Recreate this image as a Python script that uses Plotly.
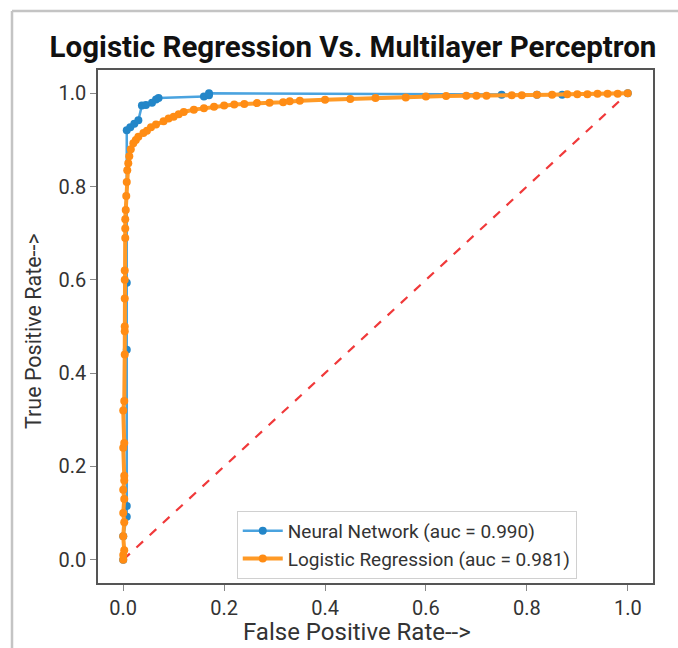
import plotly.graph_objects as go

# ROC data
nn_fpr = [0.0, 0.0, 0.007, 0.007, 0.007, 0.007, 0.007, 0.014, 0.022, 0.030, 0.037, 0.045,
          0.057, 0.065, 0.070, 0.160, 0.170, 0.170, 0.75, 0.82, 0.87, 1.0]
nn_tpr = [0.0, 0.05, 0.092, 0.115, 0.45, 0.594, 0.921, 0.927, 0.935, 0.942, 0.974, 0.975,
          0.980, 0.987, 0.990, 0.993, 0.996, 1.0, 0.997, 0.997, 0.997, 1.0]

lr_fpr = [0.0, 0.0, 0.002, 0.0, 0.002, 0.0, 0.002, 0.0, 0.002, 0.002, 0.0, 0.002, 0.0, 0.002,
          0.003, 0.003, 0.003, 0.003, 0.003, 0.003, 0.004, 0.004, 0.004, 0.005, 0.006, 0.007,
          0.008, 0.010, 0.012, 0.015, 0.020, 0.025, 0.030, 0.040, 0.047, 0.055, 0.065, 0.080,
          0.090, 0.100, 0.110, 0.120, 0.140, 0.160, 0.180, 0.200, 0.220, 0.240, 0.265, 0.290,
          0.317, 0.330, 0.350, 0.400, 0.450, 0.500, 0.560, 0.600, 0.640, 0.680, 0.700, 0.720,
          0.770, 0.790, 0.820, 0.850, 0.880, 0.900, 0.920, 0.940, 0.960, 0.980, 1.0]
lr_tpr = [0.0, 0.010, 0.020, 0.050, 0.080, 0.100, 0.130, 0.150, 0.170, 0.180, 0.240, 0.250,
          0.320, 0.340, 0.440, 0.490, 0.500, 0.560, 0.600, 0.620, 0.690, 0.710, 0.730, 0.750,
          0.780, 0.810, 0.835, 0.850, 0.865, 0.880, 0.893, 0.900, 0.907, 0.915, 0.920, 0.927,
          0.933, 0.940, 0.946, 0.950, 0.955, 0.960, 0.965, 0.968, 0.971, 0.974, 0.976, 0.977,
          0.979, 0.980, 0.981, 0.983, 0.984, 0.986, 0.988, 0.990, 0.991, 0.993, 0.994, 0.995,
          0.995, 0.995, 0.996, 0.996, 0.997, 0.997, 0.998, 0.998, 0.998, 0.999, 0.999, 0.999, 1.0]

diag = [0.0, 1.0]
tick_vals = [0.0, 0.2, 0.4, 0.6, 0.8, 1.0]
tick_text = ["0.0", "0.2", "0.4", "0.6", "0.8", "1.0"]

title_text = "Logistic Regression Vs. Multilayer Perceptron"
x_label = "False Positive Rate-->"
y_label = "True Positive Rate-->"
nn_name = "Neural Network (auc = 0.990)"
lr_name = "Logistic Regression (auc = 0.981)"

W, H = 678, 648
L, R, T, B = 98, 25, 70, 65

fig = go.Figure()
fig.add_trace(go.Scatter(x=diag, y=diag, mode="lines", showlegend=False,
                         line=dict(color="#f0393a", width=2.2, dash="dash")))
fig.add_trace(go.Scatter(x=nn_fpr, y=nn_tpr, mode="lines+markers", name=nn_name,
                         line=dict(color="#4aa3df", width=2.5),
                         marker=dict(color="#2386c8", size=8)))
fig.add_trace(go.Scatter(x=lr_fpr, y=lr_tpr, mode="lines+markers", name=lr_name,
                         line=dict(color="#ff9a26", width=4),
                         marker=dict(color="#ff8c14", size=8)))

axis_common = dict(range=[-0.05, 1.05], tickvals=tick_vals, ticktext=tick_text,
                   showgrid=False, zeroline=False, showline=True, mirror=True,
                   linecolor="#555555", linewidth=1.5, ticks="outside", ticklen=6,
                   tickcolor="#888888", tickfont=dict(family="Roboto", size=20, color="#333333"))

fig.update_layout(
    width=W, height=H,
    margin=dict(l=L, r=R, t=T, b=B),
    paper_bgcolor="white", plot_bgcolor="white",
    xaxis=axis_common,
    yaxis=axis_common,
    title=dict(text="<b>" + title_text + "</b>", xref="container", yref="container",
               x=353 / W, y=1 - 47 / H, xanchor="center", yanchor="middle",
               font=dict(family="Roboto", size=29.5, color="#111111")),
    legend=dict(x=0.25, y=0.008, xanchor="left", yanchor="bottom",
                bgcolor="white", bordercolor="#d0d0d0", borderwidth=1,
                font=dict(family="Roboto", size=19, color="#333333"),
                itemwidth=40, tracegroupgap=0),
    showlegend=True,
)

pw, ph = W - L - R, H - T - B
fig.add_annotation(text=x_label, xref="paper", yref="paper",
                   x=(357 - L) / pw, y=-(632 - (H - B)) / ph,
                   xanchor="center", yanchor="middle", showarrow=False,
                   font=dict(family="Roboto", size=24, color="#333333"))
fig.add_annotation(text=y_label, xref="paper", yref="paper",
                   x=-(L - 33) / pw, y=(H - B - 331) / ph,
                   xanchor="center", yanchor="middle", showarrow=False, textangle=-90,
                   font=dict(family="Roboto", size=21.5, color="#333333"))

# light gray frame around the figure (top and left edges visible)
fig.add_shape(type="line", xref="paper", yref="paper",
              x0=-(L - 12) / pw, x1=(W - L) / pw + 0.1, y0=(H - B - 11) / ph, y1=(H - B - 11) / ph,
              line=dict(color="#c4c4c4", width=2.5))
fig.add_shape(type="line", xref="paper", yref="paper",
              x0=-(L - 12) / pw, x1=-(L - 12) / pw, y0=(H - B - 11) / ph, y1=-B / ph - 0.1,
              line=dict(color="#c4c4c4", width=2.5))

fig.write_html("out.html")
